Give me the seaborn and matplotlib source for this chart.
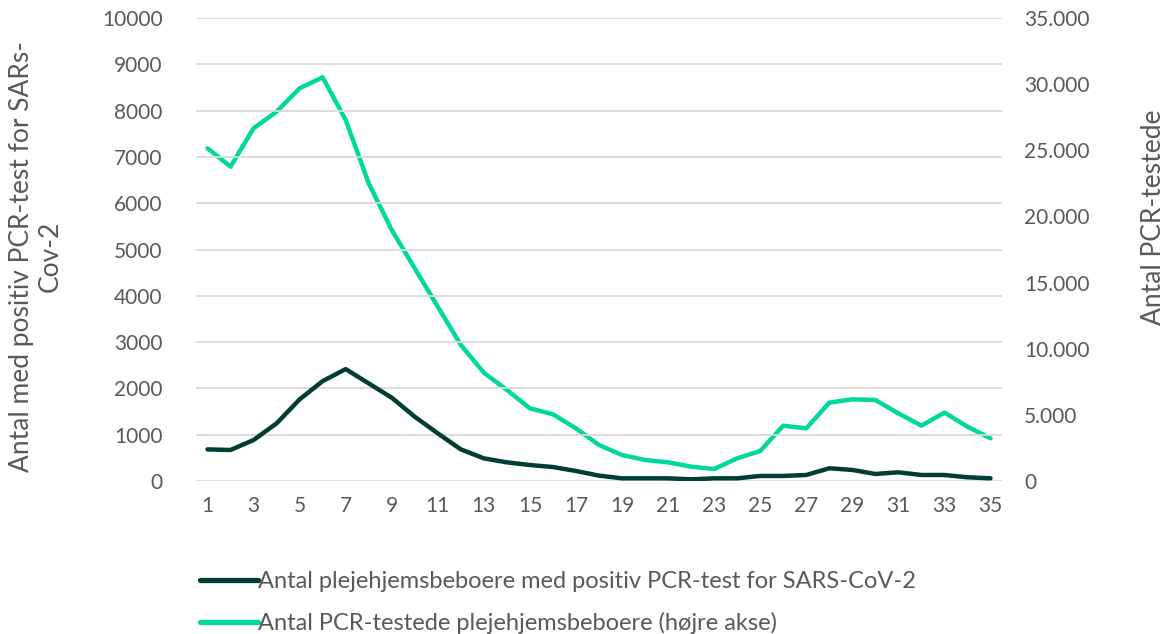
import matplotlib
matplotlib.use("Agg")
import matplotlib.pyplot as plt
import seaborn as sns
import pandas as pd
from matplotlib.lines import Line2D

weeks = list(range(1, 36))
positive = [683, 670, 885, 1245, 1763, 2158, 2417, 2108, 1799, 1388,
            1029, 683, 489, 403, 345, 302, 216, 116, 58, 58,
            58, 36, 58, 58, 109, 109, 130, 275, 239, 152,
            188, 130, 130, 80, 58]
tested = [25150, 23764, 26662, 27922, 29686, 30517, 27292, 22504, 18976, 16078,
          13180, 10282, 8190, 6880, 5494, 5040, 3982, 2722, 1966, 1588,
          1411, 1084, 907, 1714, 2268, 4183, 3982, 5922, 6174, 6124,
          5116, 4183, 5166, 4108, 3226]
left_ticks = list(range(0, 10001, 1000))
right_ticks = list(range(0, 35001, 5000))
right_labels = ["0", "5.000", "10.000", "15.000", "20.000", "25.000", "30.000", "35.000"]
x_ticks = list(range(1, 36, 2))

label_pos = "Antal plejehjemsbeboere med positiv PCR-test for SARS-CoV-2"
label_test = "Antal PCR-testede plejehjemsbeboere (højre akse)"
ylabel_left = "Antal med positiv PCR-test for SARs-\nCov-2"
ylabel_right = "Antal PCR-testede"

dark = "#003d33"
green = "#00d99b"
gray = "#595959"

sns.set_theme(style="white")
plt.rcParams['font.family'] = ['Lato', 'DejaVu Sans']

df = pd.DataFrame({"week": weeks, "positive": positive, "tested": tested})

fig = plt.figure(figsize=(11.66, 6.34), dpi=100)
ax = fig.add_axes([196/1166, 1-481/634, (1002-196)/1166, (481-18)/634])
ax2 = ax.twinx()

sns.lineplot(data=df, x="week", y="positive", ax=ax, color=dark, linewidth=3.2, legend=False)
sns.lineplot(data=df, x="week", y="tested", ax=ax2, color=green, linewidth=3.2, legend=False)
ax2.set_zorder(1)
ax.set_zorder(2)
ax.patch.set_visible(False)

ax.set_xlim(0.5, 35.5)
ax.set_ylim(0, 10000)
ax2.set_ylim(0, 35000)
ax.set_yticks(left_ticks)
ax.set_yticklabels([str(t) for t in left_ticks])
ax2.set_yticks(right_ticks)
ax2.set_yticklabels(right_labels)
ax.set_xticks(x_ticks)
ax.set_xticklabels([str(t) for t in x_ticks])

ax.grid(axis="y", color="#d9d9d9", linewidth=1.3)
ax.grid(axis="x", visible=False)
ax2.grid(False)
for a in (ax, ax2):
    for s in a.spines.values():
        s.set_visible(False)
    a.tick_params(length=0, labelsize=15, labelcolor=gray)
ax.tick_params(axis="y", pad=24)
ax2.tick_params(axis="y", pad=16)
ax.tick_params(axis="x", pad=11)

ax.set_xlabel("")
ax.set_ylabel(ylabel_left, fontsize=19, color=gray, linespacing=1.2)
ax.yaxis.set_label_coords(-0.165, 0.485)
ax2.set_ylabel(ylabel_right, fontsize=19, color=gray, rotation=90)
ax2.yaxis.set_label_coords(1.173, 0.57)

handles = [Line2D([], [], color=dark, linewidth=3.8),
           Line2D([], [], color=green, linewidth=3.8)]
leg = fig.legend(handles, [label_pos, label_test], loc="upper left",
                 bbox_to_anchor=(200/1166, 1-571/634), frameon=False,
                 fontsize=17, handlelength=2.45, handletextpad=0.0,
                 labelspacing=0.85, borderaxespad=0, borderpad=0)
for t in leg.get_texts():
    t.set_color(gray)

fig.savefig("out.png", dpi=100)
